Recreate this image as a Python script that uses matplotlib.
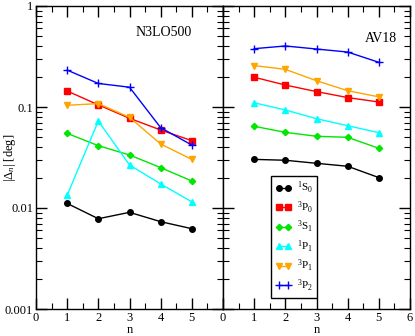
import matplotlib

matplotlib.use("Agg")
import matplotlib.pyplot as plt
from matplotlib.ticker import LogLocator, MultipleLocator, NullFormatter, FixedFormatter, FixedLocator

plt.rcParams.update({
    "font.family": "serif",
    "font.serif": ["Liberation Serif", "DejaVu Serif"],
    "mathtext.fontset": "custom",
    "mathtext.rm": "Liberation Serif",
    "mathtext.it": "Liberation Serif:italic",
    "font.size": 9,
})

# --- data -----------------------------------------------------------------
n = [1, 2, 3, 4, 5]
labels = [r"$^1$S$_0$", r"$^3$P$_0$", r"$^3$S$_1$", r"$^1$P$_1$", r"$^3$P$_1$", r"$^3$P$_2$"]
colors = ["black", "red", "#00e600", "cyan", "#ffa500", "blue"]
markers = ["o", "s", "D", "^", "v", "+"]

# N3LO500
n3lo_1S0 = [0.0111, 0.00783, 0.00906, 0.00732, 0.00624]
n3lo_3P0 = [0.144, 0.105, 0.0773, 0.0592, 0.0464]
n3lo_3S1 = [0.0548, 0.0414, 0.0335, 0.0251, 0.0185]
n3lo_1P1 = [0.0134, 0.0727, 0.0267, 0.0173, 0.0115]
n3lo_3P1 = [0.104, 0.108, 0.079, 0.043, 0.0303]
n3lo_3P2 = [0.232, 0.171, 0.157, 0.0624, 0.042]

# AV18
av18_1S0 = [0.0303, 0.0297, 0.0277, 0.0259, 0.0200]
av18_3P0 = [0.197, 0.165, 0.142, 0.124, 0.112]
av18_3S1 = [0.0644, 0.0561, 0.0513, 0.0501, 0.039]
av18_1P1 = [0.110, 0.0934, 0.0766, 0.0653, 0.0557]
av18_3P1 = [0.257, 0.236, 0.182, 0.145, 0.126]
av18_3P2 = [0.378, 0.402, 0.375, 0.350, 0.277]

n3lo = [n3lo_1S0, n3lo_3P0, n3lo_3S1, n3lo_1P1, n3lo_3P1, n3lo_3P2]
av18 = [av18_1S0, av18_3P0, av18_3S1, av18_1P1, av18_3P1, av18_3P2]

fig = plt.figure(figsize=(4.15, 3.36), dpi=100)
ax1 = fig.add_axes([36 / 415, 27 / 336, 187 / 415, 303 / 336])
ax2 = fig.add_axes([223 / 415, 27 / 336, 187 / 415, 303 / 336], sharey=ax1)


def draw(ax, series):
    for ys, c, m, lab in zip(series, colors, markers, labels):
        ms = 6 if m == "+" else (3.2 if m == "D" else 4.0)
        ax.plot(n, ys, "-", color=c, marker=m, ms=ms, lw=1.0, mew=1.0, label=lab)
    ax.set_yscale("log")
    ax.set_ylim(0.001, 1)
    ax.set_xlim(0, 6)
    ax.xaxis.set_major_locator(MultipleLocator(1))
    ax.xaxis.set_minor_locator(MultipleLocator(0.5))
    ax.yaxis.set_major_locator(LogLocator(base=10, numticks=10))
    ax.yaxis.set_minor_locator(LogLocator(base=10, subs=range(2, 10), numticks=10))
    ax.yaxis.set_minor_formatter(NullFormatter())
    ax.tick_params(which="both", direction="in", top=True, right=True)
    ax.tick_params(which="major", length=8, width=1, pad=2)
    ax.tick_params(which="minor", length=4, width=0.8)
    ax.set_xlabel("n", labelpad=0)
    for s in ax.spines.values():
        s.set_linewidth(1.0)


draw(ax1, n3lo)
draw(ax2, av18)

ax1.yaxis.set_major_locator(FixedLocator([0.001, 0.01, 0.1, 1]))
ax1.yaxis.set_major_formatter(FixedFormatter(["0.001", "0.01", "0.1", "1"]))
ax1.set_xticks([0, 1, 2, 3, 4, 5, 6])
ax1.set_xticklabels(["0", "1", "2", "3", "4", "5", ""])
ax1.set_ylabel(r"$|\Delta_n|$ [deg]")
ax1.yaxis.set_label_coords(-0.095, 0.5)
plt.setp(ax2.get_yticklabels(), visible=False)

ax1.text(0.68, 0.9, "N3LO500", transform=ax1.transAxes, ha="center", fontsize=10)
ax2.text(0.845, 0.88, "AV18", transform=ax2.transAxes, ha="center", fontsize=10)

leg = ax2.legend(loc="lower left", bbox_to_anchor=(48 / 187, 11 / 303), numpoints=2,
                 frameon=True, fancybox=False, edgecolor="black", framealpha=1,
                 fontsize=8, handlelength=1.4, labelspacing=0.3, borderpad=0.4,
                 handletextpad=0.5, borderaxespad=0)
leg.get_frame().set_linewidth(1.0)

fig.savefig("out.png", dpi=100)
